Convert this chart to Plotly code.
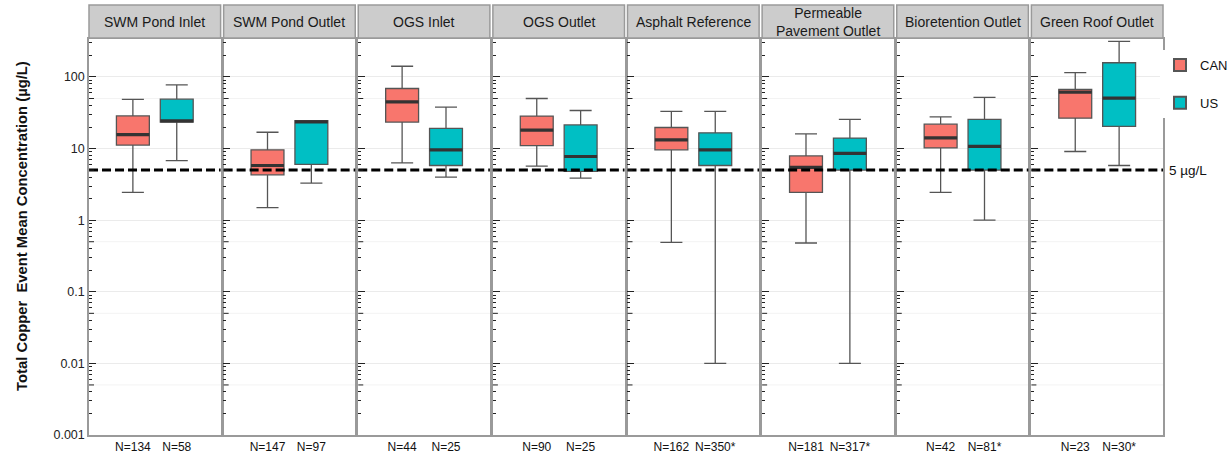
import math
import plotly.graph_objects as go
from plotly.subplots import make_subplots

# ---------------- data ----------------
panels = ["SWM Pond Inlet", "SWM Pond Outlet", "OGS Inlet", "OGS Outlet",
          "Asphalt Reference", "Permeable<br>Pavement Outlet",
          "Bioretention Outlet", "Green Roof Outlet"]
groups = ["CAN", "US"]

can_low = [2.45, 1.5, 6.3, 5.7, 0.49, 0.48, 2.45, 9.1]
can_q1 = [11.2, 4.3, 23.4, 11.0, 9.6, 2.45, 10.2, 26.6]
can_med = [15.7, 5.8, 45.0, 18.1, 13.2, 5.45, 14.1, 61.3]
can_q3 = [28.6, 9.6, 69.0, 28.4, 19.7, 7.9, 21.9, 66.9]
can_high = [48.5, 16.9, 141.0, 50.0, 33.0, 16.0, 27.7, 115.0]

us_low = [6.8, 3.3, 4.0, 3.86, 0.01, 0.01, 1.0, 5.8]
us_q1 = [23.4, 6.0, 5.8, 4.8, 5.8, 5.0, 5.0, 20.4]
us_med = [24.3, 23.6, 9.6, 7.75, 9.6, 8.55, 10.7, 50.6]
us_q3 = [49.0, 24.6, 19.1, 21.4, 16.6, 14.0, 25.5, 158.0]
us_high = [77.6, 24.6, 37.9, 34.0, 33.0, 25.5, 51.7, 313.0]

can_n = ["N=134", "N=147", "N=44", "N=90", "N=162", "N=181", "N=42", "N=23"]
us_n = ["N=58", "N=97", "N=25", "N=25", "N=350*", "N=317*", "N=81*", "N=30*"]

y_ticks = [0.001, 0.01, 0.1, 1, 10, 100]
y_ticktext = ["0.001", "0.01", "0.1", "1", "10", "100"]
threshold = 5
threshold_label = "5 µg/L"
y_title = "Total Copper  Event Mean Concentration (µg/L)"

# ---------------- style ----------------
FONT = "Liberation Sans, Arial, sans-serif"
COL = {"CAN": "#F8766D", "US": "#00BFC4"}
BOXW = 0.75
W, H = 1228, 456
ML, MR, MT, MB = 89, 65, 39, 21
plot_h = H - MT - MB
plot_w = W - ML - MR

fig = make_subplots(rows=1, cols=8, shared_yaxes=True,
                    horizontal_spacing=3 / plot_w)

stats = {
    "CAN": (can_low, can_q1, can_med, can_q3, can_high),
    "US": (us_low, us_q1, us_med, us_q3, us_high),
}

for i in range(len(panels)):
    col = i + 1
    for gi, g in enumerate(groups):
        lo, q1, med, q3, hi = (s[i] for s in stats[g])
        fig.add_trace(go.Box(
            x=[gi], q1=[q1], median=[med], q3=[q3],
            lowerfence=[lo], upperfence=[hi],
            width=BOXW, whiskerwidth=0.67,
            fillcolor=COL[g], line=dict(color="#555555", width=1.3),
            boxpoints=False, name=g, legendgroup=g,
            showlegend=(i == 0), hoverinfo="skip"), row=1, col=col)
        fig.add_trace(go.Scatter(
            x=[gi - BOXW / 2, gi + BOXW / 2], y=[med, med], mode="lines",
            line=dict(color="#333333", width=3.2), showlegend=False,
            hoverinfo="skip"), row=1, col=col)

minor_vals = [d * 10 ** k for k in range(-3, 3) for d in (2, 3, 4, 6, 7, 8, 9)]

shapes = []
annotations = []
strip_y0 = 1 + 1 / plot_h
strip_y1 = 1 + 34 / plot_h
for i in range(len(panels)):
    col = i + 1
    xs = "" if col == 1 else str(col)
    fig.update_xaxes(
        row=1, col=col, range=[-1, 2], tickvals=[0, 1],
        ticktext=[can_n[i], us_n[i]], ticks="", showgrid=False,
        zeroline=False, showline=True, mirror=True, linecolor="#9a9a9a",
        linewidth=1.5, tickfont=dict(family=FONT, size=12, color="#111"),
        fixedrange=True, automargin=False)
    fig.update_yaxes(
        row=1, col=col, type="log", range=[-3, 2.53],
        tickvals=y_ticks, ticktext=y_ticktext,
        ticks="inside", ticklen=7, tickwidth=1, tickcolor="#222",
        showgrid=True, gridcolor="#EBEBEB", gridwidth=1,
        minor=dict(tickvals=minor_vals, ticks="inside", ticklen=3,
                   tickcolor="#222", showgrid=False),
        showline=True, mirror=True, linecolor="#9a9a9a", linewidth=1.5,
        zeroline=False, showticklabels=(col == 1), automargin=False,
        fixedrange=True, tickfont=dict(family=FONT, size=12.5, color="#222"))
    # strip
    shapes.append(dict(type="rect", xref=f"x{xs} domain", yref="paper",
                       x0=0, x1=1, y0=strip_y0, y1=strip_y1,
                       fillcolor="#CCCCCC", line=dict(color="#9a9a9a", width=1.5)))
    annotations.append(dict(xref=f"x{xs} domain", yref="paper", x=0.5,
                            y=(strip_y0 + strip_y1) / 2, text=panels[i],
                            showarrow=False, xanchor="center", yanchor="middle",
                            font=dict(family=FONT, size=14, color="#1a1a1a")))
    # threshold line
    shapes.append(dict(type="line", xref=f"x{xs} domain", yref=f"y{xs}",
                       x0=0, x1=1, y0=threshold, y1=threshold, layer="above",
                       line=dict(color="black", width=3, dash="9px,4px")))
    # mid (5x) log ticks and faint gridlines
    for k in range(-3, 3):
        v = 5 * 10 ** k
        shapes.append(dict(type="line", xref=f"x{xs} domain", yref=f"y{xs}",
                           x0=0, x1=1, y0=v, y1=v, layer="below",
                           line=dict(color="#F3F3F3", width=1)))
        shapes.append(dict(type="line", xref=f"x{xs} domain", yref=f"y{xs}",
                           xsizemode="pixel", xanchor=0, x0=0, x1=5,
                           y0=v, y1=v, layer="above",
                           line=dict(color="#222", width=1)))

annotations.append(dict(xref="paper", yref="y", x=1.004, y=math.log10(threshold),
                        text=threshold_label, showarrow=False, xanchor="left",
                        yanchor="middle",
                        font=dict(family=FONT, size=13.5, color="#111")))
annotations.append(dict(xref="paper", yref="paper", x=(22 - ML) / plot_w,
                        y=0.528, text="<b>" + y_title + "</b>", textangle=-90,
                        showarrow=False, xanchor="center", yanchor="middle",
                        font=dict(family=FONT, size=14.8, color="#111")))

fig.update_layout(
    width=W, height=H, margin=dict(l=ML, r=MR, t=MT, b=MB, autoexpand=False),
    plot_bgcolor="white", paper_bgcolor="white",
    shapes=shapes, annotations=annotations,
    legend=dict(xref="container", yref="container",
                x=1160 / W, y=1 - 50 / H, xanchor="left", yanchor="top",
                font=dict(family=FONT, size=13, color="#111"),
                tracegroupgap=18, itemsizing="constant", itemwidth=30),
    boxmode="overlay",
)

fig.write_html("out.html", config={"displayModeBar": False},
               post_script="document.body.style.margin='0px';"
                           "document.body.style.overflow='hidden';")
